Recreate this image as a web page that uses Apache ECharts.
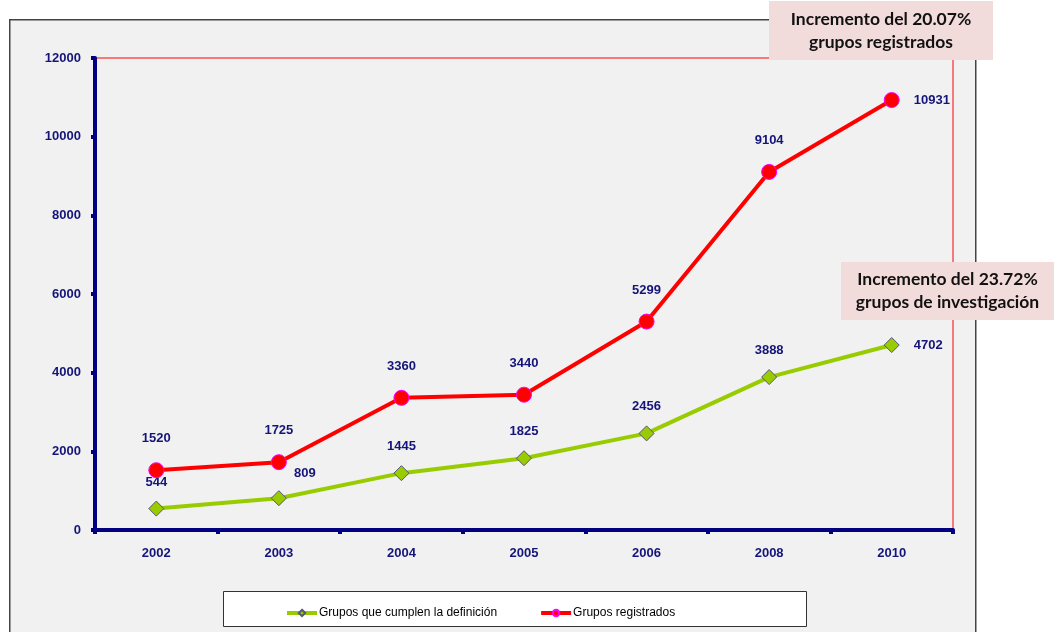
<!DOCTYPE html>
<html>
<head>
<meta charset="utf-8">
<script src="https://cdn.jsdelivr.net/npm/echarts@6/dist/echarts.min.js"></script>
<style>
  html, body { margin: 0; padding: 0; background: #fff; }
  #chart { width: 1054px; height: 632px; }
</style>
</head>
<body>
<div id="chart"></div>
<script>
// years on the x axis
const years = ['2002', '2003', '2004', '2005', '2006', '2008', '2010'];
const grupos_definicion = [544, 809, 1445, 1825, 2456, 3888, 4702];
const grupos_registrados = [1520, 1725, 3360, 3440, 5299, 9104, 10931];
const yTicks = [0, 2000, 4000, 6000, 8000, 10000, 12000];

const navy = '#14147a';
const labelFont = "'Liberation Sans Narrow', 'Liberation Sans', Arial, sans-serif";

const chart = echarts.init(document.getElementById('chart'));

// little helper for the pink notes
const note = (x, y, w, h, lines) => ({
    type: 'group',
    left: x, top: y,
    z: 100,
    children: [
        {type: 'rect', shape: {x: 0, y: 0, width: w, height: h}, style: {fill: '#f2dcdb'}},
        {
            type: 'text', x: w / 2, y: h / 2,
            style: {
                text: lines.join('\n'), align: 'center', verticalAlign: 'middle',
                font: 'bold 17.5px Lato, "Open Sans", sans-serif', lineHeight: 23, fill: '#111'
            }
        }
    ]
});

const option = {
    animation: false,
    backgroundColor: '#fff',
    graphic: [
        // outer frame of the chart
        {type: 'rect', left: 9, top: 19, z: -10,
            shape: {width: 966, height: 640},
            style: {fill: '#f1f1f1', stroke: '#444', lineWidth: 1.5}},
        // legend frame
        {type: 'rect', left: 223, top: 591, z: 1,
            shape: {width: 583, height: 35},
            style: {fill: '#fff', stroke: '#333', lineWidth: 1}},
        note(769, 1, 224, 59, ['Incremento del 20.07%', 'grupos registrados']),
        note(841, 262, 213, 58, ['Incremento del 23.72%', 'grupos de investigación'])
    ],
    grid: {
        left: 95, right: 101, top: 58, bottom: 102,
        show: true, backgroundColor: '#f1f1f1',
        borderColor: '#ff0000', borderWidth: 1
    },
    legend: {
        left: 280, top: 602,
        itemWidth: 30, itemHeight: 8, itemGap: 42,
        lineStyle: {width: 4},
        textStyle: {fontFamily: labelFont, fontSize: 12, color: '#000', padding: [0, 0, 0, -3]},
        data: ['Grupos que cumplen la definición', 'Grupos registrados']
    },
    xAxis: {
        type: 'category',
        data: years,
        boundaryGap: true,
        axisLine: {lineStyle: {color: '#000080', width: 4}},
        axisTick: {show: true, length: 4, lineStyle: {color: '#000080', width: 4}},
        axisLabel: {color: navy, fontWeight: 'bold', fontSize: 13, fontFamily: labelFont, margin: 17}
    },
    yAxis: {
        type: 'value',
        min: yTicks[0], max: yTicks[yTicks.length - 1], interval: 2000,
        splitLine: {show: false},
        axisLine: {show: true, lineStyle: {color: '#000080', width: 4}},
        axisTick: {show: true, length: 4, lineStyle: {color: '#000080', width: 4}},
        axisLabel: {
            color: navy, fontWeight: 'bold', fontSize: 13, fontFamily: labelFont, margin: 14,
            formatter: (v) => String(v)
        }
    },
    series: [
        {
            name: 'Grupos que cumplen la definición',
            type: 'line',
            data: grupos_definicion.map((v, i) => {
                if (i === 1) return {value: v, label: {position: 'top', offset: [26, 2]}};
                if (i === grupos_definicion.length - 1) return {value: v, label: {position: 'right', distance: 14}};
                return v;
            }),
            symbol: 'diamond', symbolSize: 15,
            lineStyle: {color: '#99cc00', width: 4},
            itemStyle: {color: '#99cc00', borderColor: '#55557a', borderWidth: 1},
            label: {
                show: true, position: 'top', distance: 12,
                color: navy, fontWeight: 'bold', fontSize: 13, fontFamily: labelFont
            },
            z: 3
        },
        {
            name: 'Grupos registrados',
            type: 'line',
            data: grupos_registrados.map((v, i) => {
                if (i === grupos_registrados.length - 1) return {value: v, label: {position: 'right', distance: 14}};
                return v;
            }),
            symbol: 'circle', symbolSize: 15,
            lineStyle: {color: '#ff0000', width: 4},
            itemStyle: {color: '#ff0000', borderColor: '#ff00ff', borderWidth: 1},
            label: {
                show: true, position: 'top', distance: 17,
                color: navy, fontWeight: 'bold', fontSize: 13, fontFamily: labelFont
            },
            z: 4
        }
    ]
};

chart.setOption(option);
</script>
</body>
</html>
